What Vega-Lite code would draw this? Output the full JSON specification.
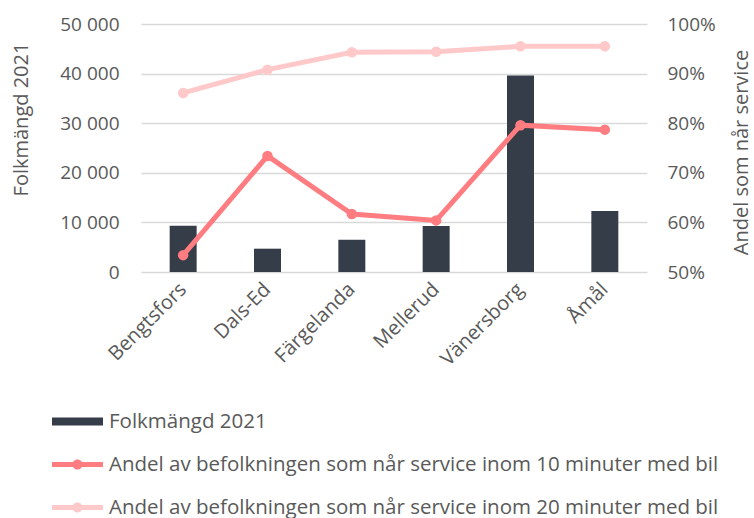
{
  "$schema": "https://vega.github.io/schema/vega-lite/v6.json",
  "autosize": {"type": "none"},
  "width": 506,
  "height": 248,
  "padding": {"left": 141, "top": 24, "right": 107, "bottom": 246},
  "background": "white",
  "config": {
    "font": "Open Sans",
    "view": {"stroke": null},
    "axis": {"labelColor": "#595959", "titleColor": "#595959", "labelFont": "Open Sans", "titleFont": "Open Sans", "titleFontWeight": "normal", "domain": false, "ticks": false}
  },
  "datasets": {
    "folk": [
      {"kommun": "Bengtsfors", "folkmangd": 9300},
      {"kommun": "Dals-Ed", "folkmangd": 4700},
      {"kommun": "Färgelanda", "folkmangd": 6500},
      {"kommun": "Mellerud", "folkmangd": 9250},
      {"kommun": "Vänersborg", "folkmangd": 39600},
      {"kommun": "Åmål", "folkmangd": 12300}
    ],
    "andel": [
      {"kommun": "Bengtsfors", "serie": "Andel av befolkningen som når service inom 10 minuter med bil", "andel": 0.534},
      {"kommun": "Dals-Ed", "serie": "Andel av befolkningen som når service inom 10 minuter med bil", "andel": 0.734},
      {"kommun": "Färgelanda", "serie": "Andel av befolkningen som når service inom 10 minuter med bil", "andel": 0.617},
      {"kommun": "Mellerud", "serie": "Andel av befolkningen som når service inom 10 minuter med bil", "andel": 0.604},
      {"kommun": "Vänersborg", "serie": "Andel av befolkningen som når service inom 10 minuter med bil", "andel": 0.796},
      {"kommun": "Åmål", "serie": "Andel av befolkningen som når service inom 10 minuter med bil", "andel": 0.787},
      {"kommun": "Bengtsfors", "serie": "Andel av befolkningen som når service inom 20 minuter med bil", "andel": 0.861},
      {"kommun": "Dals-Ed", "serie": "Andel av befolkningen som når service inom 20 minuter med bil", "andel": 0.908},
      {"kommun": "Färgelanda", "serie": "Andel av befolkningen som når service inom 20 minuter med bil", "andel": 0.943},
      {"kommun": "Mellerud", "serie": "Andel av befolkningen som når service inom 20 minuter med bil", "andel": 0.944},
      {"kommun": "Vänersborg", "serie": "Andel av befolkningen som når service inom 20 minuter med bil", "andel": 0.955},
      {"kommun": "Åmål", "serie": "Andel av befolkningen som når service inom 20 minuter med bil", "andel": 0.955}
    ]
  },
  "encoding": {
    "x": {
      "field": "kommun", "type": "nominal",
      "scale": {"domain": ["Bengtsfors", "Dals-Ed", "Färgelanda", "Mellerud", "Vänersborg", "Åmål"], "paddingInner": 0.68, "paddingOuter": 0.34},
      "axis": {"title": null, "labelAngle": -45, "labelAlign": "right", "labelBaseline": "middle", "labelFontSize": 20, "labelPadding": 14, "grid": false}
    }
  },
  "layer": [
    {
      "data": {"name": "folk"},
      "mark": {"type": "bar", "color": "#343d48"},
      "encoding": {
        "y": {
          "field": "folkmangd", "type": "quantitative",
          "scale": {"domain": [0, 50000]},
          "axis": {"title": "Folkmängd 2021", "titleFontSize": 20, "labelFontSize": 19, "values": [0, 10000, 20000, 30000, 40000, 50000], "labelExpr": "replace(format(datum.value, ','), ',', ' ')", "labelPadding": 22, "grid": true, "gridColor": "#d9d9d9", "gridWidth": 1.5, "titleX": -110, "titleY": 95, "titleAngle": -90, "titleBaseline": "bottom", "titleAlign": "center"}
        },
        "color": {"datum": "Folkmängd 2021", "type": "nominal"}
      }
    },
    {
      "data": {"name": "andel"},
      "mark": {"type": "line", "strokeWidth": 5, "point": {"size": 110, "filled": true, "opacity": 1}},
      "encoding": {
        "y": {
          "field": "andel", "type": "quantitative",
          "scale": {"domain": [0.5, 1]},
          "axis": {"orient": "right", "title": "Andel som når service", "titleFontSize": 20, "labelFontSize": 19, "values": [0.5, 0.6, 0.7, 0.8, 0.9, 1], "format": ".0%", "labelPadding": 20, "grid": false, "titleX": 104, "titleY": 128, "titleAngle": -90, "titleBaseline": "bottom", "titleAlign": "center"}
        },
        "color": {
          "field": "serie", "type": "nominal",
          "scale": {
            "domain": ["Folkmängd 2021", "Andel av befolkningen som når service inom 10 minuter med bil", "Andel av befolkningen som når service inom 20 minuter med bil"],
            "range": ["#343d48", "#ff7c80", "#ffc9c9"]
          },
          "legend": {
            "title": null, "orient": "none", "legendX": -89, "legendY": 372, "direction": "vertical",
            "labelFontSize": 20.5, "labelColor": "#595959", "labelFont": "Open Sans", "labelLimit": 800,
            "symbolSize": 2601, "labelOffset": 6, "rowPadding": 7,
            "encode": {
              "symbols": {
                "update": {
                  "shape": {"signal": "datum.value === 'Folkmängd 2021' ? 'M-1,-0.16H1V0.16H-1Z' : 'M-1,-0.1H1V0.1H-1Z M0.2,0A0.2,0.2,0,1,1,-0.2,0A0.2,0.2,0,1,1,0.2,0Z'"},
                  "fill": {"scale": "color", "field": "value"},
                  "fillOpacity": {"value": 1},
                  "strokeWidth": {"value": 0},
                  "opacity": {"value": 1}
                }
              }
            }
          }
        }
      }
    }
  ],
  "resolve": {"scale": {"y": "independent"}}
}
